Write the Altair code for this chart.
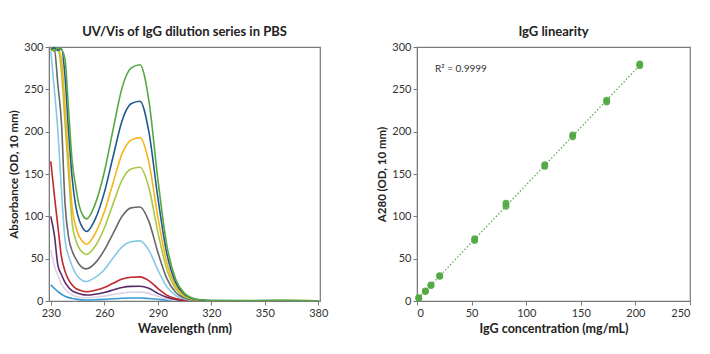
import altair as alt
import pandas as pd

FONT = "Lato"

# ---------------- UV/Vis spectra (left panel) ----------------
wavelength = [230, 232, 234, 236, 238, 240, 242, 244, 246, 248, 250, 255, 260, 265,
              270, 275, 280, 285, 290, 295, 300, 305, 310, 315, 320, 340, 360, 380]

abs_cyan = [19, 15, 11, 8, 5.5, 4, 3, 2.2, 1.6, 1.3, 1.2, 1.4, 1.9, 2.6,
            3.2, 3.55, 3.6, 3, 2, 1, 0.4, 0.15, 0.1, 0.1, 0.1, 0.1, 0.1, 0.1]
abs_lavender = [60, 42, 30, 20, 14, 10, 7, 5.5, 4.5, 4, 3.8, 4.5, 5.8, 7.7,
                9.5, 10.3, 10.5, 9, 5.5, 2.5, 1, 0.4, 0.2, 0.1, 0.1, 0.1, 0.1, 0.1]
abs_purple = [100, 78, 42, 31, 22, 16, 12, 10, 8.5, 7.5, 7, 8, 10, 13,
              16, 17.3, 17.5, 15, 9, 4.5, 1.8, 0.6, 0.2, 0.1, 0.1, 0.1, 0.1, 0.1]
abs_red = [165, 125, 88, 52, 35, 25, 19, 15, 13, 11.5, 11, 12.8, 16, 21,
           26, 28, 28.5, 24, 15, 7, 2.8, 1, 0.4, 0.2, 0.1, 0.1, 0.2, 0.1]
abs_ltblue = [295, 250, 200, 130, 72, 53, 41, 32, 27, 24, 23, 28, 37, 51,
              64, 70, 71, 60, 37, 17, 6.6, 2.3, 0.8, 0.3, 0.1, 0.2, 0.3, 0.1]
abs_gray = [298, 297, 255, 210, 115, 75, 59, 50, 43, 39, 38, 45, 60, 80,
            100, 110, 111, 94, 58, 27, 10.3, 3.7, 1.2, 0.4, 0.2, 0.2, 0.3, 0.1]
abs_ygreen = [296, 298, 297, 270, 210, 150, 92, 72, 62, 57, 55, 65, 86, 115,
              143, 156, 158, 134, 82, 38, 14.7, 5.2, 1.7, 0.6, 0.2, 0.2, 0.4, 0.2]
abs_orange = [299, 296, 298, 285, 230, 165, 110, 88, 76, 70, 67, 80, 105, 140,
              174, 190, 193, 164, 100, 46, 18, 6.4, 2.1, 0.8, 0.3, 0.3, 0.4, 0.2]
abs_blue = [297, 299, 296, 298, 265, 200, 145, 112, 95, 86, 82, 97, 128, 171,
            213, 233, 236, 200, 123, 57, 22, 7.8, 2.6, 1, 0.4, 0.3, 0.5, 0.2]
abs_green = [298, 295, 299, 297, 285, 225, 165, 135, 112, 101, 97, 115, 152, 203,
             252, 275, 279, 237, 145, 67, 26, 9, 3, 1.2, 0.5, 0.4, 0.6, 0.3]

series_names = ["cyan", "lavender", "purple", "red", "ltblue", "gray",
                "ygreen", "orange", "blue", "green"]
series_values = [abs_cyan, abs_lavender, abs_purple, abs_red, abs_ltblue, abs_gray,
                 abs_ygreen, abs_orange, abs_blue, abs_green]
series_colors = ["#3a9bd5", "#ddd3e6", "#5c2a6b", "#c1272d", "#86c8e6", "#676767",
                 "#a9c843", "#f6b417", "#1f5a8c", "#56a844"]

# ---------------- Linearity (right panel) ----------------
concentration = [1.6, 7.7, 12.8, 20.8, 52.8, 81.5, 117, 142.6, 173.7, 204]
a280_rep1 = [3.2, 11.2, 18.2, 29.8, 73.5, 115.5, 161, 196, 237, 280]
a280_rep2 = [3.8, 11.8, 18.8, 29.2, 71.5, 112, 159, 194, 235, 278]
r2_label = ["R\u00b2 = 0.9999"]

x_ticks_left = [230, 260, 290, 320, 350, 380]
y_ticks = [0, 50, 100, 150, 200, 250, 300]
x_ticks_right = [0, 50, 100, 150, 200, 250]

rows = []
for order, (name, vals) in enumerate(zip(series_names, series_values)):
    for wl, a in zip(wavelength, vals):
        rows.append({"series": name, "wavelength": wl, "absorbance": a, "o": order})
spec_df = pd.DataFrame(rows)

pt_rows = []
for c, a1, a2 in zip(concentration, a280_rep1, a280_rep2):
    pt_rows.append({"conc": c, "a280": a1})
    pt_rows.append({"conc": c, "a280": a2})
pt_df = pd.DataFrame(pt_rows)

left = alt.Chart(spec_df).mark_line(
    interpolate="monotone", clip=True, strokeWidth=1.6
).encode(
    x=alt.X("wavelength:Q",
            scale=alt.Scale(domain=[229, 381], nice=False, zero=False),
            axis=alt.Axis(values=x_ticks_left, title="Wavelength (nm)")),
    y=alt.Y("absorbance:Q",
            scale=alt.Scale(domain=[0, 300], nice=False),
            axis=alt.Axis(values=y_ticks, title="Absorbance (OD, 10 mm)")),
    color=alt.Color("series:N",
                    scale=alt.Scale(domain=series_names, range=series_colors),
                    legend=None),
    order=alt.Order("o:Q"),
).properties(width=271, height=254,
             title="UV/Vis of IgG dilution series in PBS")

green = "#52a844"
xr = alt.X("conc:Q", scale=alt.Scale(domain=[0, 250], nice=False),
           axis=alt.Axis(values=x_ticks_right, title="IgG concentration (mg/mL)"))
yr = alt.Y("a280:Q", scale=alt.Scale(domain=[0, 300], nice=False),
           axis=alt.Axis(values=y_ticks, title="A280 (OD, 10 mm)"))

fit = alt.Chart(pt_df).transform_regression("conc", "a280").mark_line(
    strokeDash=[1.5, 2], color=green, strokeWidth=1.2
).encode(x=xr, y=yr)

pts = alt.Chart(pt_df).mark_circle(size=48, color=green, opacity=0.9).encode(x=xr, y=yr)

txt = alt.Chart(pd.DataFrame({"t": r2_label})).mark_text(
    align="left", baseline="middle", fontSize=10, font=FONT, color="#333"
).encode(x=alt.value(18), y=alt.value(22), text="t:N")

right = alt.layer(fit, pts, txt).properties(width=273, height=254, title="IgG linearity")

chart = alt.hconcat(left, right, spacing=47).properties(
    padding={"left": 8, "top": 25, "right": 5, "bottom": 5}
).configure_view(
    stroke="#7a7a7a", strokeWidth=1.2
).configure_axis(
    grid=False, domainColor="#7a7a7a", tickColor="#7a7a7a", tickSize=4,
    labelColor="#333", titleColor="#222", labelFont=FONT, titleFont=FONT,
    labelFontSize=11, titleFontSize=11.5, titleFontWeight="bold", labelPadding=2
).configure_axisX(
    titleFontSize=12.5
).configure_title(
    font=FONT, fontSize=13, fontWeight="bold", color="#222", offset=2
)

chart.save("out.html", embed_options={"renderer": "svg", "actions": False})
